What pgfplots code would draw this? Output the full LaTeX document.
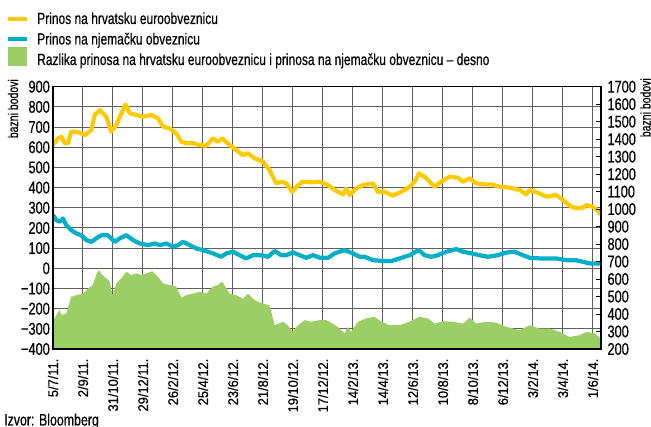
\documentclass[border=0pt]{standalone}
\usepackage{pgfplots}
\pgfplotsset{compat=1.18}
\usepackage{pgfplotstable}
\usepackage{fontspec}
\setmainfont{Liberation Sans}[FakeStretch=0.75,FakeBold=0.4]
\newfontfamily\xfont{Liberation Sans}[FakeStretch=0.92,FakeBold=0.4]
\definecolor{ylw}{RGB}{255,203,0}
\definecolor{cyn}{RGB}{0,174,200}
\definecolor{grn}{RGB}{155,206,100}
\definecolor{gridc}{RGB}{95,95,95}

\pgfplotstableread{
x y
0 611
0.17 644
0.28 652
0.39 620
0.5 620
0.61 677
0.78 677
0.94 669
1.06 660
1.28 685
1.39 760
1.56 784
1.78 751
1.94 677
2.11 710
2.28 768
2.42 812
2.56 768
2.78 760
3.0 751
3.28 760
3.5 743
3.67 702
3.89 693
4.11 669
4.28 627
4.44 620
4.67 620
4.89 611
5.11 607
5.33 644
5.5 627
5.64 644
5.89 611
6.11 586
6.33 561
6.5 570
6.72 545
7.0 528
7.22 487
7.44 421
7.61 429
7.78 421
7.98 379
8.17 412
8.33 429
8.61 426
8.9 429
9.17 412
9.39 388
9.67 366
9.78 396
9.89 363
10.11 396
10.33 412
10.67 421
10.83 379
11.06 379
11.33 360
11.61 379
11.89 404
12.06 429
12.2 470
12.39 454
12.56 429
12.72 404
12.94 429
13.22 454
13.5 449
13.67 429
13.89 446
14.11 421
14.33 416
14.61 416
14.89 404
15.22 400
15.56 388
15.78 366
15.89 388
16.22 371
16.44 355
16.78 363
17.0 338
17.28 305
17.5 297
17.67 300
17.78 313
18.0 305
18.14 288
18.26 267
}\yellowdata

\pgfplotstableread{
x y
0 264
0.11 239
0.22 231
0.33 247
0.44 214
0.61 189
0.78 173
0.94 164
1.11 140
1.28 131
1.44 148
1.61 164
1.83 164
2.06 131
2.22 148
2.44 164
2.67 140
2.89 123
3.17 115
3.39 123
3.56 115
3.78 123
4.0 107
4.17 115
4.33 131
4.56 115
4.78 98
5.0 90
5.33 74
5.61 57
5.78 74
6.0 82
6.22 65
6.44 49
6.67 65
6.94 65
7.17 57
7.39 86
7.61 65
7.78 65
8.0 79
8.22 65
8.44 52
8.67 65
8.9 52
9.17 52
9.39 74
9.72 90
10.0 74
10.22 57
10.39 57
10.67 40
11.0 36
11.28 36
11.56 49
11.89 65
12.19 90
12.39 65
12.61 57
12.83 65
13.11 82
13.44 95
13.67 82
13.94 74
14.22 65
14.5 57
14.83 65
15.11 78
15.39 82
15.67 65
15.89 52
16.22 49
16.56 49
16.78 49
17.11 40
17.44 40
17.67 32
17.89 24
18.26 24
}\cyandata

\pgfplotstableread{
x y
0 356
0.11 394
0.22 423
0.28 394
0.44 403
0.61 499
0.78 508
1.0 517
1.17 546
1.33 566
1.44 623
1.53 651
1.64 623
1.78 604
1.89 585
1.98 508
2.11 575
2.28 604
2.44 642
2.61 623
2.78 632
2.94 623
3.11 632
3.31 645
3.5 613
3.67 575
3.89 566
4.11 556
4.28 493
4.44 508
4.67 517
4.89 527
5.11 517
5.33 556
5.5 566
5.64 585
5.89 517
6.11 508
6.33 488
6.5 517
6.72 479
7.0 460
7.22 450
7.39 336
7.67 356
7.83 336
7.98 298
8.17 336
8.39 365
8.61 356
8.89 365
9.11 365
9.33 345
9.56 317
9.72 289
9.83 327
9.94 298
10.17 356
10.44 375
10.72 384
10.94 356
11.22 336
11.56 336
11.89 356
12.22 384
12.5 375
12.72 345
13.0 359
13.33 356
13.67 345
13.89 379
14.11 345
14.44 356
14.78 351
15.11 327
15.56 308
15.89 336
16.22 317
16.56 317
16.89 298
17.22 269
17.56 279
17.78 298
18.06 289
18.26 260
}\greendata

\begin{document}
\begin{tikzpicture}[x=1pt,y=1pt]
\path[use as bounding box] (0,0) rectangle (651,-427);
\begin{axis}[
  at={(53pt,-349pt)}, anchor=south west,
  scale only axis, width=548pt, height=262.3pt,
  xmin=0, xmax=18.27, ymin=-400, ymax=900,
  xtick={0,1,...,18},
  xticklabels={5/7/11.,2/9/11.,31/10/11.,29/12/11.,26/2/12.,25/4/12.,23/6/12.,21/8/12.,19/10/12.,17/12/12.,14/2/13.,14/4/13.,12/6/13.,10/8/13.,8/10/13.,6/12/13.,3/2/14.,3/4/14.,1/6/14.},
  ytick={-400,-300,...,900},
  yticklabels={−400,−300,−200,−100,0,100,200,300,400,500,600,700,800,900},
  ytick pos=left,
  major tick length=0pt,
  grid=major,
  major grid style={draw=gridc, line width=1pt},
  axis line style={draw=black, line width=1.3pt},
  yticklabel style={font=\fontsize{17}{17}\selectfont, inner sep=1.5pt, xshift=-1.5pt},
  xticklabel shift=9.5pt,
  xticklabel style={font=\xfont\fontsize{14}{14}\selectfont, inner sep=0pt, rotate=90, anchor=east},
]
\addplot[ylw, line width=4.2pt, line join=round] table {\yellowdata};
\addplot[cyn, line width=4.2pt, line join=round] table {\cyandata};
\end{axis}
\begin{axis}[
  at={(53pt,-349pt)}, anchor=south west,
  scale only axis, width=548pt, height=262.3pt,
  xmin=0, xmax=18.27, ymin=200, ymax=1700,
  xtick=\empty,
  ytick={200,300,...,1700},
  yticklabels={200,300,400,500,600,700,800,900,1000,1100,1200,1300,1400,1500,1600,1700},
  ytick pos=right, tick align=inside, major tick length=5pt,
  tick style={draw=black, line width=0.8pt},
  axis on top,
  axis line style={draw=black, line width=1.3pt},
  yticklabel style={font=\fontsize{17}{17}\selectfont, xshift=3pt},
]
\addplot[fill=grn, draw=none] table {\greendata} \closedcycle;
\end{axis}
% legend
\draw[ylw, line width=4pt] (8,-18.7) -- (27,-18.7);
\node[anchor=base west, inner sep=0, font=\fontsize{16}{16}\selectfont] at (37,-24) {Prinos na hrvatsku euroobveznicu};
\draw[cyn, line width=4pt] (8,-39) -- (27,-39);
\node[anchor=base west, inner sep=0, font=\fontsize{16}{16}\selectfont] at (37,-44.5) {Prinos na njemačku obveznicu};
\fill[grn] (8,-46.7) rectangle (27,-65.7);
\node[anchor=base west, inner sep=0, font=\fontsize{16}{16}\selectfont] at (37,-65) {Razlika prinosa na hrvatsku euroobveznicu i prinosa na njemačku obveznicu – desno};
% axis titles
\node[rotate=90, anchor=east, inner sep=0, font=\fontsize{14}{14}\selectfont] at (13,-79) {bazni bodovi};
\node[rotate=90, anchor=base east, inner sep=0, font=\fontsize{14}{14}\selectfont] at (650.5,-78) {bazni bodovi};
% source
\node[anchor=base west, inner sep=0, font=\fontsize{16.5}{16.5}\selectfont] at (4,-425.5) {Izvor: Bloomberg};
\end{tikzpicture}
\end{document}
